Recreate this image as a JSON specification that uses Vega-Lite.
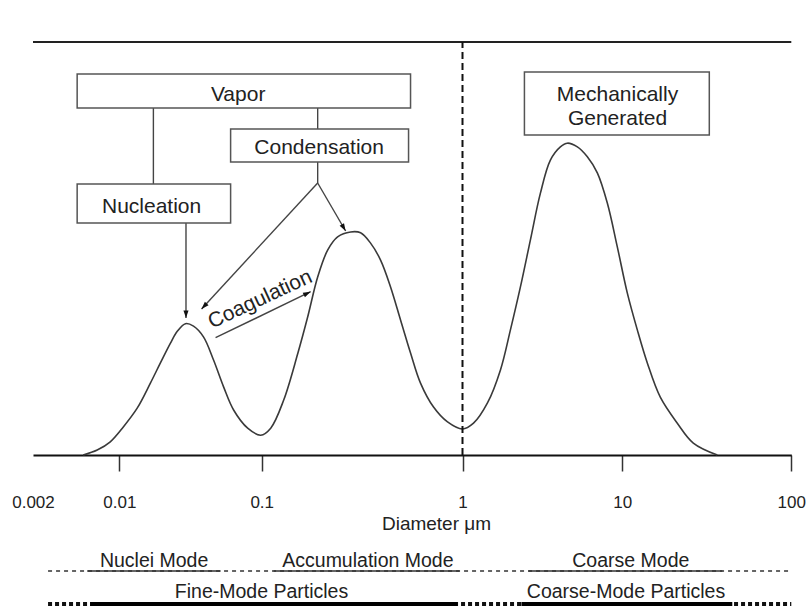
{
  "$schema": "https://vega.github.io/schema/vega-lite/v6.json",
  "width": 758,
  "height": 413,
  "autosize": {"type": "none"},
  "padding": {"left": 33, "top": 42, "right": 17, "bottom": 151},
  "background": "white",
  "config": {"view": {"stroke": null}, "font": "Liberation Sans"},
  "datasets": {
    "curve": [
      {"d": 0.005098, "v": 0}, {"d": 0.006625, "v": 1.2}, {"d": 0.00845, "v": 3.2}, {"d": 0.01067, "v": 6.8},
      {"d": 0.01339, "v": 11.4}, {"d": 0.01653, "v": 17.4}, {"d": 0.01944, "v": 22.3}, {"d": 0.02287, "v": 27.1},
      {"d": 0.02561, "v": 30.0}, {"d": 0.02916, "v": 31.8},
      {"d": 0.0332, "v": 31.2}, {"d": 0.039, "v": 28.6}, {"d": 0.0459, "v": 23.0}, {"d": 0.054, "v": 16.5},
      {"d": 0.0635, "v": 10.9}, {"d": 0.0797, "v": 6.5}, {"d": 0.0984, "v": 4.8}, {"d": 0.1109, "v": 6.5},
      {"d": 0.1287, "v": 13.3}, {"d": 0.1511, "v": 24.5}, {"d": 0.1694, "v": 33.4}, {"d": 0.19, "v": 43.1},
      {"d": 0.213, "v": 49.6}, {"d": 0.2388, "v": 52.8}, {"d": 0.2772, "v": 54.0}, {"d": 0.3108, "v": 53.8},
      {"d": 0.3485, "v": 51.3}, {"d": 0.3908, "v": 47.2}, {"d": 0.4382, "v": 40.7}, {"d": 0.4914, "v": 32.7},
      {"d": 0.5511, "v": 24.7}, {"d": 0.6179, "v": 17.4}, {"d": 0.7173, "v": 11.6}, {"d": 0.8421, "v": 8.0},
      {"d": 1.0, "v": 6.3}, {"d": 1.172, "v": 7.7}, {"d": 1.433, "v": 12.6}, {"d": 1.728, "v": 20.6},
      {"d": 1.995, "v": 30.3}, {"d": 2.304, "v": 40.7}, {"d": 2.661, "v": 52.1}, {"d": 3.073, "v": 63.4},
      {"d": 3.548, "v": 71.4}, {"d": 4.097, "v": 74.6}, {"d": 4.531, "v": 75.5}, {"d": 5.233, "v": 74.6},
      {"d": 6.043, "v": 72.2}, {"d": 6.978, "v": 68.3}, {"d": 8.058, "v": 61.0}, {"d": 9.306, "v": 50.4},
      {"d": 10.71, "v": 39.2}, {"d": 12.27, "v": 30.3}, {"d": 14.06, "v": 22.3}, {"d": 16.78, "v": 14.0},
      {"d": 21.16, "v": 7.7}, {"d": 26.31, "v": 2.9}, {"d": 36.49, "v": 0}
    ],
    "frame": [{"d1": 0.002, "d2": 100, "v": 100}],
    "boundary": [{"d": 1, "v1": 0, "v2": 100}],
    "boxes": [
      {"name": "Vapor", "d1": 0.004557, "d2": 0.5511, "v1": 92.25, "v2": 84.02},
      {"name": "Condensation", "d1": 0.06049, "d2": 0.5387, "v1": 78.93, "v2": 70.94},
      {"name": "Nucleation", "d1": 0.004557, "d2": 0.06049, "v1": 65.62, "v2": 56.17},
      {"name": "Mechanically Generated", "d1": 2.4406, "d2": 32.72, "v1": 92.74, "v2": 77.48}
    ],
    "boxText": [
      {"d": 0.06832, "v": 85.71, "label": "Vapor"},
      {"d": 0.19321, "v": 72.81, "label": "Condensation"},
      {"d": 0.016856, "v": 58.67, "label": "Nucleation"},
      {"d": 9.3325, "v": 85.79, "label": "Mechanically"},
      {"d": 9.3325, "v": 79.9, "label": "Generated"}
    ],
    "links": [
      {"d1": 0.017355, "v1": 84.02, "d2": 0.017355, "v2": 65.62},
      {"d1": 0.19, "v1": 84.02, "d2": 0.19, "v2": 78.93},
      {"d1": 0.19, "v1": 70.94, "d2": 0.19, "v2": 65.86},
      {"d1": 0.19, "v1": 65.86, "d2": 0.2618, "v2": 54.24},
      {"d1": 0.19, "v1": 65.86, "d2": 0.0378, "v2": 35.35},
      {"d1": 0.0294, "v1": 56.17, "d2": 0.0294, "v2": 33.17},
      {"d1": 0.04743, "v1": 28.4, "d2": 0.1753, "v2": 39.54}
    ],
    "heads": [
      {"arrow": "nucleation", "d": 0.0294, "v": 33.17},
      {"arrow": "accumulation", "d": 0.2618, "v": 54.24},
      {"arrow": "nuclei", "d": 0.0378, "v": 35.35},
      {"arrow": "coagulation", "d": 0.1753, "v": 39.54}
    ],
    "coag": [{"d": 0.10115, "v": 36.32, "label": "Coagulation"}],
    "modeDashed": [{"d1": 0.002648, "d2": 100, "v": -28.09}],
    "modeSolid": [
      {"d1": 0.005495, "d2": 0.05144, "v": -28.09},
      {"d1": 0.11474, "d2": 0.9662, "v": -28.09},
      {"d1": 2.5853, "d2": 39.06, "v": -28.09}
    ],
    "modeText": [
      {"d": 0.017554, "v": -27.05, "label": "Nuclei Mode"},
      {"d": 0.33798, "v": -27.05, "label": "Accumulation Mode"},
      {"d": 11.228, "v": -27.05, "label": "Coarse Mode"}
    ],
    "fineDotted": [{"d1": 0.002648, "d2": 100, "v": -36.32}],
    "fineSolid": [
      {"d1": 0.005812, "d2": 0.9443, "v": -36.32},
      {"d1": 2.3375, "d2": 44.76, "v": -36.32}
    ],
    "fineText": [
      {"d": 0.0997, "v": -34.7, "label": "Fine-Mode Particles"},
      {"d": 10.517, "v": -34.7, "label": "Coarse-Mode Particles"}
    ]
  },
  "layer": [
    {
      "data": {"name": "curve"},
      "mark": {"type": "line", "interpolate": "catmull-rom", "color": "#3a3a3a", "strokeWidth": 1.6},
      "encoding": {
        "x": {
          "field": "d", "type": "quantitative",
          "scale": {"type": "log", "domain": [0.002, 0.01, 0.1, 1, 10, 100], "range": [0, 86.3, 228.7, 429.5, 589.3, 758.3], "nice": false, "zero": false},
          "axis": {
            "values": [0.002, 0.01, 0.1, 1, 10, 100],
            "format": "~g",
            "title": "Diameter μm",
            "grid": false,
            "domainColor": "#111", "domainWidth": 2,
            "tickColor": {"condition": {"test": "datum.value < 0.005", "value": "rgba(0,0,0,0)"}, "value": "#333"},
            "tickSize": 16, "tickWidth": 1.5,
            "labelFont": "Liberation Sans", "labelFontSize": 17, "labelColor": "#222",
            "labelBaseline": "alphabetic", "labelPadding": 36,
            "labelFlush": false, "labelOverlap": false, "labelBound": false,
            "titleFont": "Liberation Sans", "titleFontSize": 19, "titleFontWeight": "normal", "titleColor": "#222",
            "titleX": 403, "titleY": 74, "titleBaseline": "alphabetic", "titleAlign": "center"
          }
        },
        "y": {"field": "v", "type": "quantitative", "scale": {"domain": [0, 100], "nice": false, "zero": false}, "axis": null}
      }
    },
    {
      "data": {"name": "frame"},
      "mark": {"type": "rule", "color": "#222", "strokeWidth": 2},
      "encoding": {
        "x": {"field": "d1", "type": "quantitative"},
        "x2": {"field": "d2"},
        "y": {"field": "v", "type": "quantitative", "axis": null}
      }
    },
    {
      "data": {"name": "boundary"},
      "mark": {"type": "rule", "color": "#111", "strokeWidth": 2, "strokeDash": [7, 4]},
      "encoding": {
        "x": {"field": "d", "type": "quantitative"},
        "y": {"field": "v1", "type": "quantitative", "axis": null},
        "y2": {"field": "v2"}
      }
    },
    {
      "data": {"name": "links"},
      "mark": {"type": "rule", "color": "#444", "strokeWidth": 1.4},
      "encoding": {
        "x": {"field": "d1", "type": "quantitative"},
        "x2": {"field": "d2"},
        "y": {"field": "v1", "type": "quantitative", "axis": null},
        "y2": {"field": "v2"}
      }
    },
    {
      "data": {"name": "heads"},
      "transform": [{"filter": "datum.arrow == 'nucleation'"}],
      "mark": {"type": "point", "shape": "M0,0 L-0.8,2.4 L0.8,2.4 Z", "size": 40, "filled": true, "color": "#111", "opacity": 1, "angle": 180},
      "encoding": {"x": {"field": "d", "type": "quantitative"}, "y": {"field": "v", "type": "quantitative", "axis": null}}
    },
    {
      "data": {"name": "heads"},
      "transform": [{"filter": "datum.arrow == 'accumulation'"}],
      "mark": {"type": "point", "shape": "M0,0 L-0.8,2.4 L0.8,2.4 Z", "size": 40, "filled": true, "color": "#111", "opacity": 1, "angle": 150},
      "encoding": {"x": {"field": "d", "type": "quantitative"}, "y": {"field": "v", "type": "quantitative", "axis": null}}
    },
    {
      "data": {"name": "heads"},
      "transform": [{"filter": "datum.arrow == 'nuclei'"}],
      "mark": {"type": "point", "shape": "M0,0 L-0.8,2.4 L0.8,2.4 Z", "size": 40, "filled": true, "color": "#111", "opacity": 1, "angle": 223},
      "encoding": {"x": {"field": "d", "type": "quantitative"}, "y": {"field": "v", "type": "quantitative", "axis": null}}
    },
    {
      "data": {"name": "heads"},
      "transform": [{"filter": "datum.arrow == 'coagulation'"}],
      "mark": {"type": "point", "shape": "M0,0 L-0.8,2.4 L0.8,2.4 Z", "size": 40, "filled": true, "color": "#111", "opacity": 1, "angle": 64},
      "encoding": {"x": {"field": "d", "type": "quantitative"}, "y": {"field": "v", "type": "quantitative", "axis": null}}
    },
    {
      "data": {"name": "boxes"},
      "mark": {"type": "rect", "fill": "white", "stroke": "#555", "strokeWidth": 1.5},
      "encoding": {
        "x": {"field": "d1", "type": "quantitative"},
        "x2": {"field": "d2"},
        "y": {"field": "v1", "type": "quantitative", "axis": null},
        "y2": {"field": "v2"}
      }
    },
    {
      "data": {"name": "boxText"},
      "mark": {"type": "text", "font": "Liberation Sans", "fontSize": 21, "color": "#222", "align": "center", "baseline": "alphabetic"},
      "encoding": {
        "x": {"field": "d", "type": "quantitative"},
        "y": {"field": "v", "type": "quantitative", "axis": null},
        "text": {"field": "label"}
      }
    },
    {
      "data": {"name": "coag"},
      "mark": {"type": "text", "font": "Liberation Sans", "fontSize": 21, "color": "#222", "align": "center", "baseline": "alphabetic", "angle": -25},
      "encoding": {
        "x": {"field": "d", "type": "quantitative"},
        "y": {"field": "v", "type": "quantitative", "axis": null},
        "text": {"field": "label"}
      }
    },
    {
      "data": {"name": "modeDashed"},
      "mark": {"type": "rule", "color": "#333", "strokeWidth": 1.5, "strokeDash": [4, 4]},
      "encoding": {
        "x": {"field": "d1", "type": "quantitative"},
        "x2": {"field": "d2"},
        "y": {"field": "v", "type": "quantitative", "axis": null}
      }
    },
    {
      "data": {"name": "modeSolid"},
      "mark": {"type": "rule", "color": "#333", "strokeWidth": 1.6},
      "encoding": {
        "x": {"field": "d1", "type": "quantitative"},
        "x2": {"field": "d2"},
        "y": {"field": "v", "type": "quantitative", "axis": null}
      }
    },
    {
      "data": {"name": "modeText"},
      "mark": {"type": "text", "font": "Liberation Sans", "fontSize": 19.5, "color": "#222", "align": "center", "baseline": "alphabetic"},
      "encoding": {
        "x": {"field": "d", "type": "quantitative"},
        "y": {"field": "v", "type": "quantitative", "axis": null},
        "text": {"field": "label"}
      }
    },
    {
      "data": {"name": "fineDotted"},
      "mark": {"type": "rule", "color": "#111", "strokeWidth": 6, "strokeDash": [4, 3]},
      "encoding": {
        "x": {"field": "d1", "type": "quantitative"},
        "x2": {"field": "d2"},
        "y": {"field": "v", "type": "quantitative", "axis": null}
      }
    },
    {
      "data": {"name": "fineSolid"},
      "mark": {"type": "rule", "color": "#000", "strokeWidth": 6},
      "encoding": {
        "x": {"field": "d1", "type": "quantitative"},
        "x2": {"field": "d2"},
        "y": {"field": "v", "type": "quantitative", "axis": null}
      }
    },
    {
      "data": {"name": "fineText"},
      "mark": {"type": "text", "font": "Liberation Sans", "fontSize": 19.5, "color": "#222", "align": "center", "baseline": "alphabetic"},
      "encoding": {
        "x": {"field": "d", "type": "quantitative"},
        "y": {"field": "v", "type": "quantitative", "axis": null},
        "text": {"field": "label"}
      }
    }
  ]
}
